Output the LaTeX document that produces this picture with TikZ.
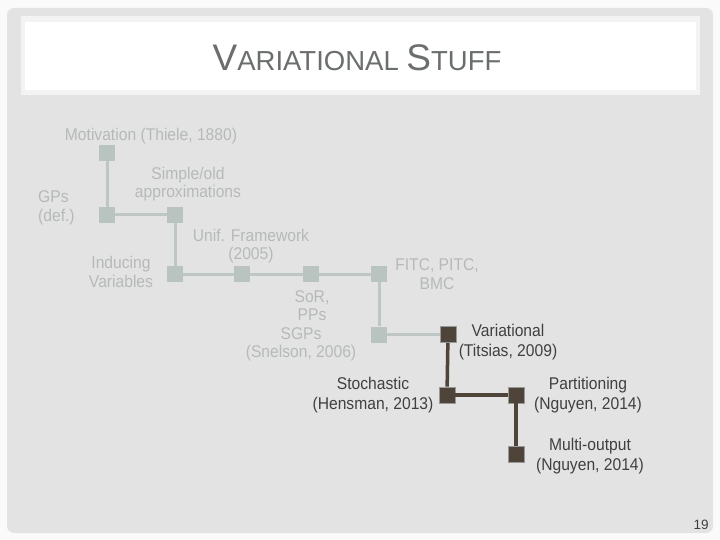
\documentclass[tikz,border=0pt]{standalone}
\usepackage{fontspec}
\setmainfont{Liberation Sans}
\newfontfamily\narrowfont[FakeStretch=0.92]{Liberation Sans}
\definecolor{pagebg}{HTML}{FAFAFA}
\definecolor{panel}{HTML}{E3E3E3}
\definecolor{band}{HTML}{F3F3F3}
\definecolor{lightfill}{HTML}{B9C3BF}
\definecolor{lightline}{HTML}{BEC7C3}
\definecolor{lighttext}{HTML}{B5BAB8}
\definecolor{darkfill}{HTML}{4F4439}
\definecolor{darkline}{HTML}{4F4439}
\definecolor{darktext}{HTML}{404040}
\definecolor{titlegrey}{HTML}{6A6E6C}
\tikzset{
  lnode/.style={rectangle, minimum size=16pt, inner sep=0pt, fill=lightfill},
  dnode/.style={rectangle, minimum size=16pt, inner sep=0pt, fill=darkfill, draw=black!40, line width=0.6pt},
  llink/.style={draw=lightline, line width=3pt},
  dlink/.style={draw=darkline, line width=3.5pt},
  ltext/.style={text=lighttext, align=center, inner sep=0pt, font=\narrowfont\fontsize{17}{18.5}\selectfont},
  dtext/.style={text=darktext, align=center, inner sep=0pt, font=\narrowfont\fontsize{17}{19.5}\selectfont}
}
\begin{document}
\begin{tikzpicture}[x=1pt,y=-1pt]
\useasboundingbox (0,0) rectangle (720,540);
\fill[pagebg] (0,0) rectangle (720,540);
\fill[panel, rounded corners=7pt] (7,8) rectangle (713,533);
\fill[band] (21,16) rectangle (700,95);
\fill[white] (25,22) rectangle (696,90);
\node[text=titlegrey, inner sep=0pt] (title) at (357,58)
  {\fontsize{37}{37}\selectfont V\fontsize{27.5}{27.5}\selectfont ARIATIONAL \fontsize{37}{37}\selectfont S\fontsize{27.5}{27.5}\selectfont TUFF};

% nodes
\node[lnode] (m) at (107,153) {};
\node[lnode] (g) at (107,215) {};
\node[lnode] (s) at (175,215) {};
\node[lnode] (i) at (175,274) {};
\node[lnode] (u) at (242,274) {};
\node[lnode] (so) at (311,274) {};
\node[lnode] (f) at (379,274) {};
\node[lnode] (sn) at (379,334.5) {};
\node[dnode] (v) at (448,334.5) {};
\node[dnode] (st) at (447,395) {};
\node[dnode] (p) at (516,395) {};
\node[dnode] (mo) at (516,454.5) {};

% links
\path[llink] (m) -- (g);
\path[llink] (g) -- (s);
\path[llink] (s) -- (i);
\path[llink] (i) -- (u);
\path[llink] (u) -- (so);
\path[llink] (so) -- (f);
\path[llink] (f) -- (sn);
\path[llink] (sn) -- (v);
\path[dlink] (v) -- (st);
\path[dlink] (st) -- (p);
\path[dlink] (p) -- (mo);

% labels
\node[ltext] (tm) at (151,136) {Motivation (Thiele, 1880)};
\node[ltext, align=left, anchor=west] (tg) at (38,208) {GPs\\(def.)};
\node[ltext] (ts) at (188,184) {Simple/old\\approximations};
\node[ltext] (tu) at (251,246) {Unif. Framework\\(2005)};
\node[ltext] (ti) at (121,272) {Inducing\\Variables};
\node[ltext] (tso) at (301,326) {\hspace*{22pt}SoR,\\\hspace*{22pt}PPs\\SGPs\\(Snelson, 2006)};
\node[ltext] (tf) at (437,274) {FITC, PITC,\\BMC};
\node[dtext] (tv) at (508,342) {Variational\\(Titsias, 2009)};
\node[dtext] (tst) at (373,395) {Stochastic\\(Hensman, 2013)};
\node[dtext] (tp) at (588,395) {Partitioning\\(Nguyen, 2014)};
\node[dtext] (tmo) at (590,456) {Multi-output\\(Nguyen, 2014)};
\node[text=darktext, inner sep=0pt, font=\fontsize{13.5}{13.5}\selectfont] (pg) at (701,525) {19};
\end{tikzpicture}
\end{document}
